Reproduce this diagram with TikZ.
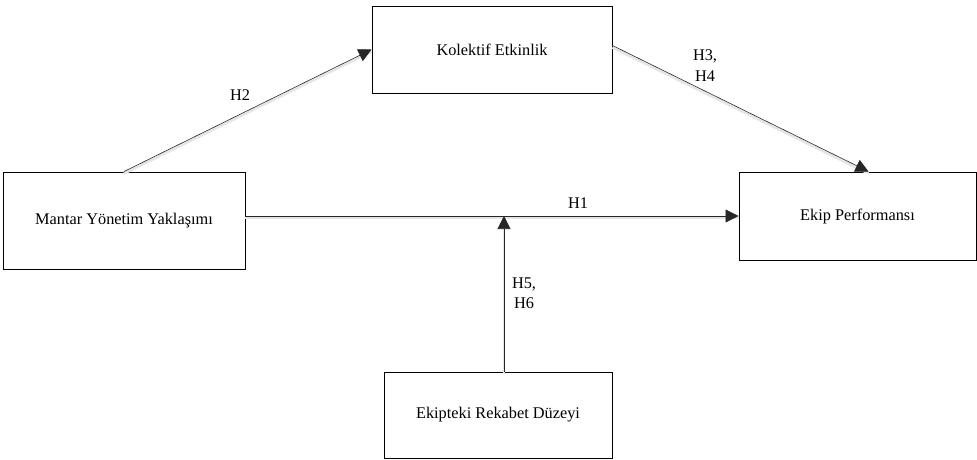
\documentclass[tikz,border=0pt]{standalone}
\usepackage{fontspec}
\setmainfont{Liberation Serif}
\usetikzlibrary{arrows.meta,calc}
\begin{document}
\begin{tikzpicture}[x=1pt,y=-1pt,
  box/.style={draw=black, line width=0.9pt, fill=white, rectangle, inner sep=0pt, font=\fontsize{16.3}{20.5}\selectfont},
  conn/.style={draw=black!85, line width=0.6pt, -{Triangle[length=13pt,width=13pt]},
    preaction={draw=black!10, line width=2.5pt, -, transform canvas={yshift=-2pt}}},
  lbl/.style={font=\fontsize{16.3}{20.5}\selectfont, align=center, inner sep=0pt}]
\useasboundingbox (0,0) rectangle (977,460);
\node[box, minimum width=242pt, minimum height=97pt] (m) at (124,220.5) {Mantar Yönetim Yaklaşımı};
\node[box, minimum width=240pt, minimum height=87pt] (k) at (492,49.5) {Kolektif Etkinlik};
\node[box, minimum width=237pt, minimum height=88pt] (e) at (857.5,216) {Ekip Performansı};
\node[box, minimum width=228pt, minimum height=86pt] (r) at (498,415) {Ekipteki Rekabet Düzeyi};
\coordinate (j) at ($(r.north)+(6,0)$);
\coordinate (jt) at (j |- e.west);
\draw[conn] (m.north) -- (k.west);
\draw[conn] ($(k.east)+(0,-4)$) -- ($(e.north)+(11,0)$);
\draw[conn] (m.east |- e.west) -- (e.west);
\draw[conn] (j) -- (jt);
\node[lbl] (h2) at (240,95) {H2};
\node[lbl] (h34) at (705,65.5) {H3,\\H4};
\node[lbl] (h1) at (578,203) {H1};
\node[lbl] (h56) at (524,293) {H5,\\H6};
\end{tikzpicture}
\end{document}
